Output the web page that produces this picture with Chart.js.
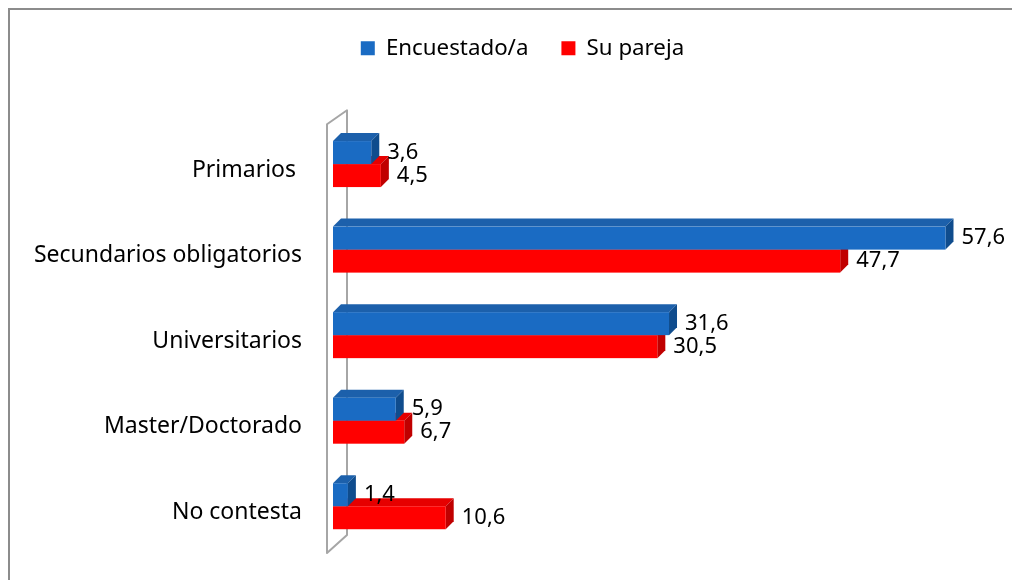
<!DOCTYPE html>
<html><head><meta charset="utf-8">
<script src="https://cdn.jsdelivr.net/npm/chart.js@4"></script>
<style>html,body{margin:0;padding:0;background:#fff}#wrap{width:1012px;height:580px;position:relative}</style>
</head><body><div id="wrap"><canvas id="c" width="1012" height="580"></canvas></div>
<script>
const categories = ['Primarios ', 'Secundarios obligatorios', 'Universitarios', 'Master/Doctorado', 'No contesta'];
const encuestado = [3.6, 57.6, 31.6, 5.9, 1.4];
const pareja = [4.5, 47.7, 30.5, 6.7, 10.6];
const seriesNames = ['Encuestado/a', 'Su pareja'];
const xMin = 0, xMax = 60;

const FONT = '"Noto Sans", "DejaVu Sans", sans-serif';
const palette = [
  {front: '#1a6bc3', top: '#1c60ab', side: '#0f4c8d'},
  {front: '#ff0000', top: '#e60000', side: '#c00000'}
];
const DX = 8, DY = 8;

function fmt(v) { return v.toFixed(1).replace('.', ','); }

const bar3d = {
  id: 'bar3d',
  afterLayout(chart) {
    const lg = chart.legend;
    if (lg) { lg.left += 32; lg.right += 32; }
  },
  beforeDraw(chart) {
    const ctx = chart.ctx;
    ctx.save();
    ctx.fillStyle = '#fff';
    ctx.fillRect(0, 0, chart.width, chart.height);
    ctx.strokeStyle = '#8c8c8c';
    ctx.lineWidth = 2;
    ctx.beginPath();
    ctx.moveTo(9, chart.height);
    ctx.lineTo(9, 9);
    ctx.lineTo(chart.width, 9);
    ctx.stroke();
    ctx.restore();
  },
  beforeDatasetsDraw(chart) {
    const ctx = chart.ctx, a = chart.chartArea;
    const x0 = chart.scales.x.getPixelForValue(0);
    ctx.save();
    ctx.strokeStyle = '#a6a6a6';
    ctx.lineWidth = 2;
    ctx.lineJoin = 'round';
    ctx.beginPath();
    ctx.moveTo(x0 - 6, a.top + 3);
    ctx.lineTo(x0 + 14, a.top - 11);
    ctx.lineTo(x0 + 14, a.bottom - 14);
    ctx.lineTo(x0 - 6, a.bottom + 4);
    ctx.closePath();
    ctx.stroke();
    ctx.restore();
  },
  beforeDatasetDraw() { return false; },
  afterDatasetsDraw(chart) {
    const ctx = chart.ctx;
    const metas = [chart.getDatasetMeta(0), chart.getDatasetMeta(1)];
    ctx.save();
    for (let i = 0; i < categories.length; i++) {
      for (const di of [1, 0]) {
        const el = metas[di].data[i];
        const p = el.getProps(['x', 'y', 'base', 'height'], true);
        const c = palette[di];
        const x0 = p.base, x1 = p.x, yt = p.y - p.height / 2, yb = p.y + p.height / 2;
        ctx.fillStyle = c.top;
        ctx.beginPath();
        ctx.moveTo(x0, yt); ctx.lineTo(x0 + DX, yt - DY); ctx.lineTo(x1 + DX, yt - DY); ctx.lineTo(x1, yt);
        ctx.closePath(); ctx.fill();
        ctx.fillStyle = c.side;
        ctx.beginPath();
        ctx.moveTo(x1, yt); ctx.lineTo(x1 + DX, yt - DY); ctx.lineTo(x1 + DX, yb - DY); ctx.lineTo(x1, yb);
        ctx.closePath(); ctx.fill();
        ctx.fillStyle = c.front;
        ctx.fillRect(x0, yt, x1 - x0, yb - yt);
      }
    }
    ctx.fillStyle = '#000';
    ctx.font = '22px ' + FONT;
    ctx.textBaseline = 'middle';
    ctx.textAlign = 'left';
    for (let i = 0; i < categories.length; i++) {
      for (const di of [0, 1]) {
        const el = metas[di].data[i];
        const p = el.getProps(['x', 'y'], true);
        const v = chart.data.datasets[di].data[i];
        ctx.fillText(fmt(v), p.x + DX + 8, p.y);
      }
    }
    ctx.restore();
  }
};

new Chart(document.getElementById('c'), {
  type: 'bar',
  data: {
    labels: categories,
    datasets: [
      {label: seriesNames[0], data: encuestado, backgroundColor: palette[0].front, barThickness: 23},
      {label: seriesNames[1], data: pareja, backgroundColor: palette[1].front, barThickness: 23}
    ]
  },
  options: {
    indexAxis: 'y',
    responsive: false,
    animation: false,
    devicePixelRatio: 1,
    layout: {padding: {left: 10, right: 41, top: 4, bottom: 31}},
    plugins: {
      legend: {
        display: true,
        position: 'top',
        labels: {
          boxWidth: 14, boxHeight: 14, padding: 33,
          color: '#000',
          font: {family: FONT, size: 22.3}
        }
      },
      tooltip: {enabled: false}
    },
    scales: {
      x: {
        position: 'top',
        min: xMin, max: xMax,
        grid: {display: false},
        border: {display: false},
        ticks: {display: false},
        afterFit(s) { s.height = 52; }
      },
      y: {
        grid: {display: false, drawTicks: false},
        border: {display: false},
        ticks: {
          color: '#000',
          padding: 31,
          labelOffset: 6,
          font: {family: FONT, size: 23}
        },
        afterFit(s) { s.width = 323; s.paddingTop = 0; s.paddingBottom = 0; }
      }
    }
  },
  plugins: [bar3d]
});
</script></body></html>
